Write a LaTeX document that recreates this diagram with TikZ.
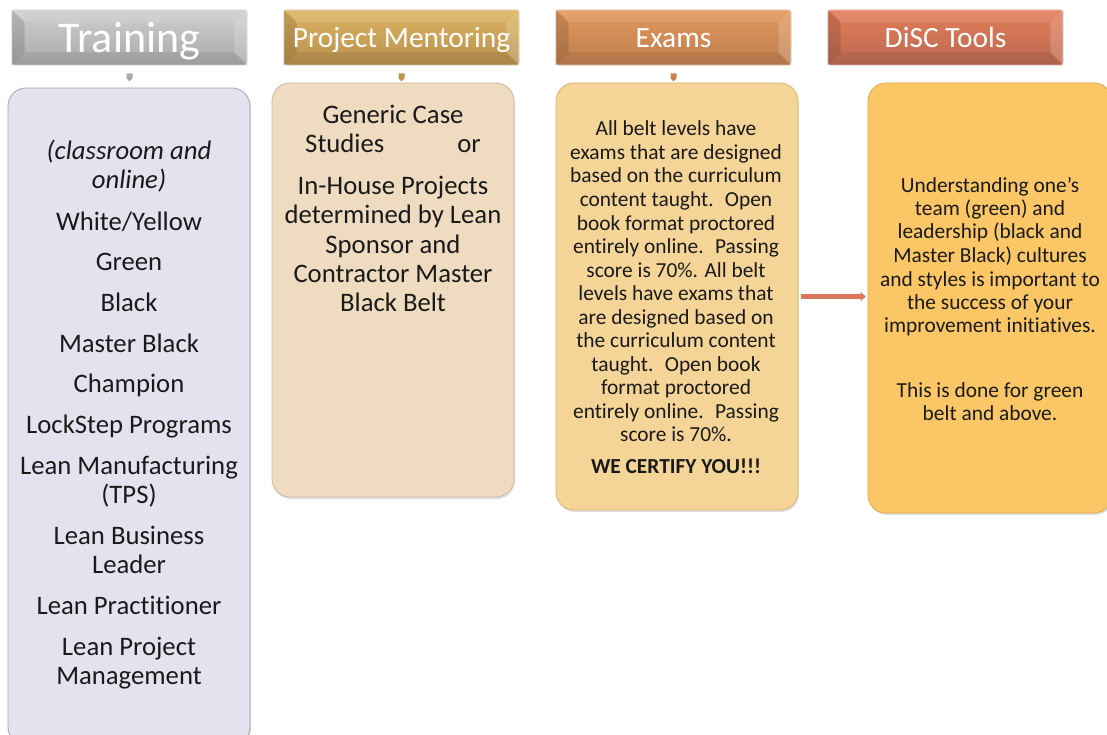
\documentclass[tikz,border=0pt]{standalone}
\usepackage{fontspec}
\setmainfont{Carlito}[Ligatures={NoCommon,NoRare,NoContextual}]
\usetikzlibrary{arrows.meta,shadows}
\definecolor{trTop}{HTML}{CFCFD1}
\definecolor{trBot}{HTML}{A9A9AB}
\definecolor{pmTop}{HTML}{DDB360}
\definecolor{pmBot}{HTML}{B8904F}
\definecolor{exTop}{HTML}{E2975B}
\definecolor{exBot}{HTML}{BE7F4F}
\definecolor{dcTop}{HTML}{E27C58}
\definecolor{dcBot}{HTML}{BC6A52}
\definecolor{trFill}{HTML}{E3E2EE}
\definecolor{trLine}{HTML}{A3A2B0}
\definecolor{pmFill}{HTML}{EEDBC0}
\definecolor{pmLine}{HTML}{CDB89A}
\definecolor{exFill}{HTML}{F4D497}
\definecolor{exLine}{HTML}{D9B574}
\definecolor{dcFill}{HTML}{FBC766}
\definecolor{dcLine}{HTML}{DDA848}
\definecolor{arrowCol}{HTML}{D9785A}
\definecolor{txtCol}{HTML}{1A1A1A}
\tikzset{
  hdrbox/.style={rectangle, rounded corners=2pt, inner sep=0, minimum width=235pt, minimum height=55pt, draw=white!55!#1, line width=0.8pt},
  hdrtext/.style={anchor=base, inner sep=0, text=white},
  bodybox/.style={rectangle, rounded corners=18pt, inner sep=0, line width=0.8pt,
     drop shadow={shadow xshift=1pt, shadow yshift=-2pt, opacity=0.25}},
  big/.style={anchor=base, inner sep=0, text=txtCol, font=\fontsize{26.7}{29}\selectfont},
  small/.style={anchor=base, inner sep=0, text=txtCol, font=\fontsize{21.4}{23.5}\selectfont},
}
\newcommand\bevels[1]{%
  \fill[black, opacity=0.12] (#1.north west) -- ([xshift=13pt,yshift=-13pt]#1.north west) -- ([xshift=13pt,yshift=13pt]#1.south west) -- (#1.south west) -- cycle;
  \fill[white, opacity=0.18] (#1.north east) -- ([xshift=-13pt,yshift=-13pt]#1.north east) -- ([xshift=-13pt,yshift=13pt]#1.south east) -- (#1.south east) -- cycle;
  \fill[white, opacity=0.10] (#1.north west) -- ([xshift=13pt,yshift=-13pt]#1.north west) -- ([xshift=-13pt,yshift=-13pt]#1.north east) -- (#1.north east) -- cycle;
  \fill[black, opacity=0.07] (#1.south west) -- ([xshift=13pt,yshift=13pt]#1.south west) -- ([xshift=-13pt,yshift=13pt]#1.south east) -- (#1.south east) -- cycle;
}
\newcommand\hdrmark[2]{%
  \fill[#2] ([xshift=-3pt,yshift=-8pt]#1.south) -- ([xshift=3pt,yshift=-8pt]#1.south) -- ([xshift=3pt,yshift=-13pt]#1.south) -- ([yshift=-16pt]#1.south) -- ([xshift=-3pt,yshift=-13pt]#1.south) -- cycle;
}
\begin{document}
\begin{tikzpicture}[x=1pt,y=-1pt]
\useasboundingbox (0,0) rectangle (1107,735);
\clip (0,0) rectangle (1107,735);

% headers
\node[hdrbox=trBot, top color=trTop, bottom color=trBot] (h1) at (129.5,37.5) {};
\node[hdrbox=pmBot, top color=pmTop, bottom color=pmBot] (h2) at (401.5,37.5) {};
\node[hdrbox=exBot, top color=exTop, bottom color=exBot] (h3) at (673.5,37.5) {};
\node[hdrbox=dcBot, top color=dcTop, bottom color=dcBot] (h4) at (945.5,37.5) {};
\bevels{h1}\bevels{h2}\bevels{h3}\bevels{h4}
\node[hdrtext, font=\fontsize{44}{50}\selectfont] (h1t) at (129.5,53) {Training};
\node[hdrtext, font=\fontsize{29.4}{34}\selectfont] (h2t) at (401.5,48) {Project Mentoring};
\node[hdrtext, font=\fontsize{29.4}{34}\selectfont] (h3t) at (673.5,48) {Exams};
\node[hdrtext, font=\fontsize{29.4}{34}\selectfont] (h4t) at (945.5,48) {DiSC Tools};
\hdrmark{h1}{trBot}
\hdrmark{h2}{pmBot!90!pmTop}
\hdrmark{h3}{exBot!80!exTop}

% body boxes
\node[bodybox, fill=trFill, draw=trLine, minimum width=242pt, minimum height=657pt] (b1) at (129,416.5) {};
\node[bodybox, fill=pmFill, draw=pmLine, minimum width=242pt, minimum height=414pt] (b2) at (393,290) {};
\node[bodybox, fill=exFill, draw=exLine, minimum width=242pt, minimum height=427pt] (b3) at (677,296.5) {};
\node[bodybox, fill=dcFill, draw=dcLine, minimum width=244pt, minimum height=430pt] (b4) at (990,298) {};

% connector
\draw[arrowCol, line width=5pt, -{Triangle[length=5pt,width=9pt]}, shorten <=3pt, shorten >=2pt] (b3.east) -- (b3.east -| b4.west);

% training text
\node[big, font=\fontsize{26.7}{29}\selectfont\itshape] (t1) at (129,160) {(classroom and};
\node[big, font=\fontsize{26.7}{29}\selectfont\itshape] (t2) at (129,189) {online)};
\node[big] (t3) at (129,230) {White/Yellow};
\node[big] (t4) at (129,270) {Green};
\node[big] (t5) at (129,311) {Black};
\node[big] (t6) at (129,352) {Master Black};
\node[big] (t7) at (129,392) {Champion};
\node[big] (t8) at (129,433) {LockStep Programs};
\node[big] (t9) at (129,474) {Lean Manufacturing};
\node[big] (t10) at (129,503) {(TPS)};
\node[big] (t11) at (129,544) {Lean Business};
\node[big] (t12) at (129,573) {Leader};
\node[big] (t13) at (129,614) {Lean Practitioner};
\node[big] (t14) at (129,655) {Lean Project};
\node[big] (t15) at (129,684) {Management};

% project mentoring text
\node[big] (p1) at (393,124) {Generic Case};
\node[big] (p2) at (393,153) {Studies\hspace*{73pt}or};
\node[big] (p3) at (393,195) {In-House Projects};
\node[big] (p4) at (393,224) {determined by Lean};
\node[big] (p5) at (393,253) {Sponsor and};
\node[big] (p6) at (393,282) {Contractor Master};
\node[big] (p7) at (393,311) {Black Belt};

% exams text
\node[small] (e1) at (676,136) {All belt levels have};
\node[small] (e2) at (676,159.5) {exams that are designed};
\node[small] (e3) at (676,183) {based on the curriculum};
\node[small] (e4) at (676,206.5) {content taught.~ Open};
\node[small] (e5) at (676,230) {book format proctored};
\node[small] (e6) at (676,253.5) {entirely online.~ Passing};
\node[small] (e7) at (676,277) {score is 70\%. All belt};
\node[small] (e8) at (676,300.5) {levels have exams that};
\node[small] (e9) at (676,324) {are designed based on};
\node[small] (e10) at (676,347.5) {the curriculum content};
\node[small] (e11) at (676,371) {taught.~ Open book};
\node[small] (e12) at (676,394.5) {format proctored};
\node[small] (e13) at (676,418) {entirely online.~ Passing};
\node[small] (e14) at (676,441.5) {score is 70\%.};
\node[small, font=\fontsize{21.4}{23.5}\selectfont\bfseries] (e15) at (676,473) {WE CERTIFY YOU!!!};

% disc text
\node[small] (d1) at (990,193) {Understanding one’s};
\node[small] (d2) at (990,216) {team (green) and};
\node[small] (d3) at (990,239) {leadership (black and};
\node[small] (d4) at (990,262) {Master Black) cultures};
\node[small] (d5) at (990,286) {and styles is important to};
\node[small] (d6) at (990,309) {the success of your};
\node[small] (d7) at (990,332) {improvement initiatives.};
\node[small] (d8) at (990,397) {This is done for green};
\node[small] (d9) at (990,420) {belt and above.};
\end{tikzpicture}
\end{document}
